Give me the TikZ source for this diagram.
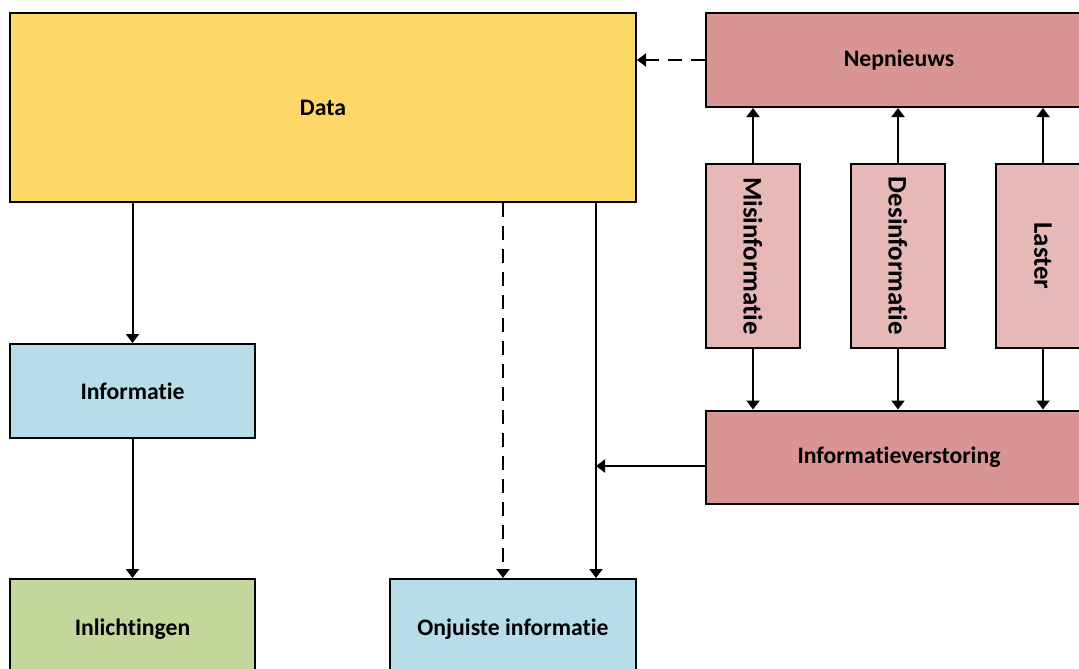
\documentclass[tikz,border=0pt]{standalone}
\usepackage{fontspec}
\setmainfont{Carlito}[Ligatures=NoCommon]
\usetikzlibrary{arrows.meta,calc}
\definecolor{cdata}{HTML}{FDD868}
\definecolor{cnep}{HTML}{D99594}
\definecolor{csmall}{HTML}{E6B9B8}
\definecolor{cinfo}{HTML}{B7DDE8}
\definecolor{cinl}{HTML}{C4D79B}
\tikzset{
  box/.style={draw=black, line width=2pt, inner sep=0pt, font=\fontsize{23.7}{28}\selectfont\bfseries},
  vbox/.style={box, fill=csmall, minimum width=94pt, minimum height=184pt, font=\fontsize{26.8}{32}\selectfont\bfseries},
  arr/.style={line width=2pt, -{Triangle[width=13pt,length=9pt]}},
  darr/.style={arr, dash pattern=on 14pt off 9pt},
}
\begin{document}
\begin{tikzpicture}[x=1pt,y=-1pt]
\useasboundingbox (0,0) rectangle (1079,669);
\clip (0,0) rectangle (1079,669);
\node[box, fill=cdata, minimum width=626pt, minimum height=189pt] (data) at (323,107.5) {Data};
\node[box, fill=cnep, minimum width=386pt, minimum height=94pt] (nep) at (899,60) {Nepnieuws};
\node[vbox] (mis) at (753,256) {\rotatebox{-90}{Misinformatie}};
\node[vbox] (des) at (898,256) {\rotatebox{-90}{Desinformatie}};
\node[vbox] (las) at (1043,256) {\rotatebox{-90}{Laster}};
\node[box, fill=cnep, minimum width=386pt, minimum height=93pt] (iv) at (899,457) {Informatieverstoring};
\node[box, fill=cinfo, minimum width=245pt, minimum height=94pt] (info) at (132.5,391) {Informatie};
\node[box, fill=cinl, minimum width=245pt, minimum height=100pt] (inl) at (132.5,629) {Inlichtingen};
\node[box, fill=cinfo, minimum width=246pt, minimum height=100pt] (onj) at (513,629) {Onjuiste informatie};
% left chain
\draw[arr] (info.north |- data.south) -- (info.north);
\draw[arr] (info.south) -- (inl.north);
% to onjuiste
\coordinate (od) at ($(onj.north)+(-10,0)$);
\coordinate (os) at ($(onj.north)+(83,0)$);
\draw[darr] (od |- data.south) -- (od);
\draw[arr] (os |- data.south) -- (os);
\coordinate (ivw) at ($(iv.west)+(0,9)$);
\draw[arr] (ivw) -- (os |- ivw);
% nepnieuws
\draw[darr] (nep.west) -- (data.east |- nep.west);
\foreach \n in {mis,des,las}{
  \draw[arr] (\n.north) -- (\n.north |- nep.south);
  \draw[arr] (\n.south) -- (\n.south |- iv.north);
}
\end{tikzpicture}
\end{document}
